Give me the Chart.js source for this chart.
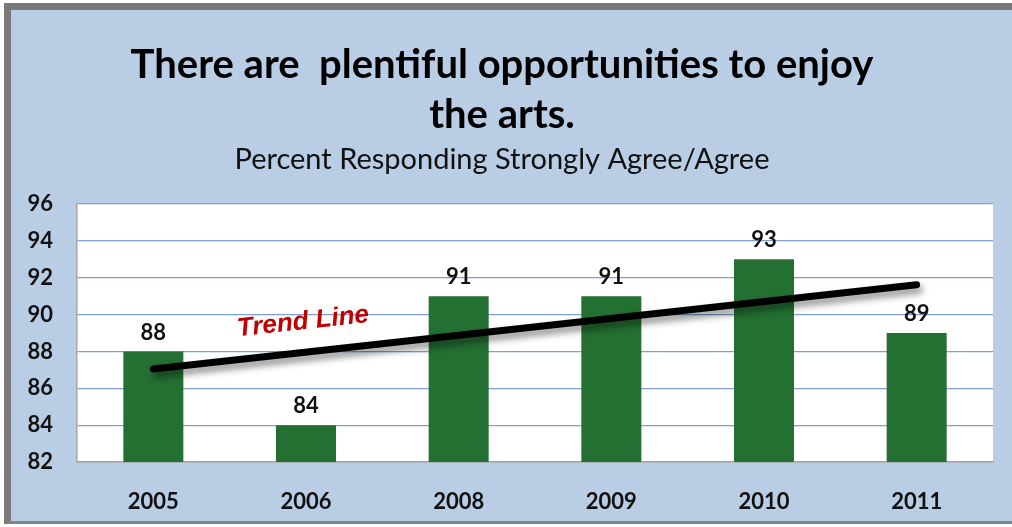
<!DOCTYPE html>
<html>
<head>
<meta charset="utf-8">
<script src="https://cdn.jsdelivr.net/npm/chart.js@4/dist/chart.umd.min.js"></script>
<style>
  html, body { margin: 0; padding: 0; background: #ffffff; }
  body { width: 1012px; height: 527px; position: relative; overflow: hidden; }
  #frame {
    position: absolute; left: 4px; top: 3px; width: 1001px; height: 511px;
    background: #b9cde4;
    border-top: 7px solid #7a7a7a;
    border-left: 7px solid #7a7a7a;
    border-bottom: 3px solid #858585;
    border-right: 0;
    box-sizing: content-box;
  }
  #wrap { position: absolute; left: 0; top: 0; width: 1012px; height: 527px; }
</style>
</head>
<body>
<div id="frame"></div>
<div id="wrap"><canvas id="chart" width="1012" height="527"></canvas></div>
<script>
// Survey years and share of respondents who strongly agree / agree
const years = ['2005', '2006', '2008', '2009', '2010', '2011'];
const percentAgree = [88, 84, 91, 91, 93, 89];

// Fitted trend line: values at the first and last year
const trendValues = [87.05, null, null, null, null, 91.62];

// Value axis range and step
const yMin = 82;
const yMax = 96;
const yStep = 2;

const titleLines = ['There are  plentiful opportunities to enjoy', 'the arts.'];
const subtitleText = 'Percent Responding Strongly Agree/Agree';
const trendLabel = 'Trend Line';

const barColor = '#246f32';
const gridColor = '#7fa0cf';
const axisGray = '#a6a6a6';
const textColor = '#111111';
const tickFont = { family: 'Lato', size: 22, weight: 'bold' };

// White plotting area behind the bars
const plotBackground = {
  id: 'plotBackground',
  beforeDraw(chart) {
    const { ctx, chartArea: a } = chart;
    ctx.save();
    ctx.fillStyle = '#ffffff';
    ctx.fillRect(a.left, a.top, a.right - a.left, a.bottom - a.top);
    ctx.restore();
  }
};

// Soft drop shadow under the trend line
const trendShadow = {
  id: 'trendShadow',
  beforeDatasetDraw(chart, args) {
    if (args.meta.type !== 'line') return;
    const ctx = chart.ctx;
    ctx.save();
    ctx.shadowColor = 'rgba(0,0,0,0.45)';
    ctx.shadowBlur = 7;
    ctx.shadowOffsetX = 3;
    ctx.shadowOffsetY = 5;
  },
  afterDatasetDraw(chart, args) {
    if (args.meta.type !== 'line') return;
    chart.ctx.restore();
  }
};

// Value labels above the bars and the red trend caption
const annotations = {
  id: 'annotations',
  afterDatasetsDraw(chart) {
    const { ctx, scales } = chart;
    const meta = chart.getDatasetMeta(1);
    ctx.save();
    ctx.font = `${tickFont.weight} ${tickFont.size}px ${tickFont.family}`;
    ctx.fillStyle = textColor;
    ctx.textAlign = 'center';
    ctx.textBaseline = 'middle';
    meta.data.forEach((bar, i) => {
      ctx.fillText(String(percentAgree[i]), bar.x, bar.y - 19);
    });
    ctx.restore();

    const x = scales.x.getPixelForValue(0.98);
    const y = scales.y.getPixelForValue(89.6);
    ctx.save();
    ctx.translate(x, y);
    ctx.rotate(-6.3 * Math.PI / 180);
    ctx.font = 'italic bold 26px "Liberation Sans"';
    ctx.fillStyle = '#c00000';
    ctx.textAlign = 'center';
    ctx.textBaseline = 'middle';
    ctx.fillText(trendLabel, 0, 0);
    ctx.restore();
  }
};

new Chart(document.getElementById('chart'), {
  type: 'bar',
  data: {
    labels: years,
    datasets: [
      {
        type: 'line',
        data: trendValues,
        spanGaps: true,
        borderColor: '#000000',
        borderWidth: 7,
        borderCapStyle: 'round',
        pointRadius: 0,
        order: 0
      },
      {
        type: 'bar',
        data: percentAgree,
        backgroundColor: barColor,
        borderWidth: 0,
        categoryPercentage: 1,
        barPercentage: 0.393,
        order: 1
      }
    ]
  },
  options: {
    responsive: false,
    animation: false,
    events: [],
    layout: { padding: { top: 10, left: 11, right: 19, bottom: 0 } },
    plugins: {
      legend: { display: false },
      tooltip: { enabled: false },
      title: {
        display: true,
        text: titleLines,
        color: '#000000',
        font: { family: 'Lato', size: 40, weight: 'bold', lineHeight: 50 / 40 },
        padding: { top: 30, bottom: 0 }
      },
      subtitle: {
        display: true,
        text: subtitleText,
        color: textColor,
        font: { family: 'Lato', size: 29, weight: 'normal', lineHeight: 1.2 },
        padding: { top: 2.6, bottom: 26.6 }
      }
    },
    scales: {
      x: {
        grid: { display: false },
        border: { display: true, color: axisGray, width: 1.5 },
        ticks: { color: textColor, font: tickFont, padding: 19 },
        afterFit(scale) { scale.height = 65; }
      },
      y: {
        min: yMin,
        max: yMax,
        ticks: { stepSize: yStep, color: textColor, font: tickFont, padding: 24 },
        grid: {
          drawTicks: false,
          color: (c) => (c.tick && c.tick.value === yMin ? axisGray : gridColor),
          lineWidth: 1.2
        },
        border: { display: true, color: axisGray, width: 1.5 },
        afterFit(scale) { scale.width = 66; }
      }
    }
  },
  plugins: [plotBackground, trendShadow, annotations]
});
</script>
</body>
</html>
